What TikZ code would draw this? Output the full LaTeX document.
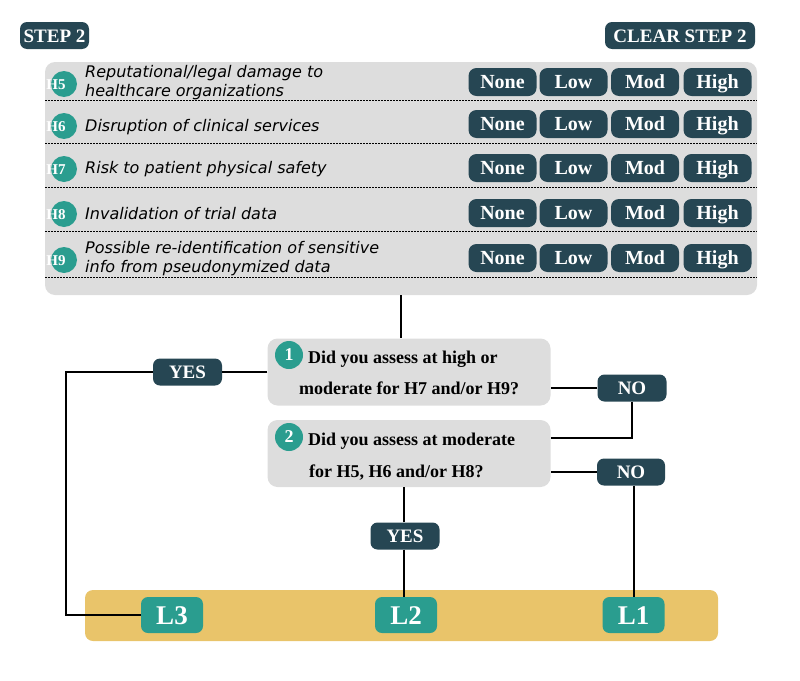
\documentclass[tikz,border=0pt]{standalone}
\usepackage{fontspec}
\setmainfont{Liberation Serif}
\newfontfamily\dejavu{DejaVu Sans}
\definecolor{dk}{HTML}{264653}
\definecolor{tl}{HTML}{2A9D8F}
\definecolor{yl}{HTML}{E9C46A}
\definecolor{gr}{HTML}{DDDDDD}
\tikzset{
  pill/.style={fill=dk, rounded corners=7pt, text=white, inner sep=0pt, text height=13pt, text depth=0pt, font=\bfseries\fontsize{19}{19}\selectfont},
  btn/.style={fill=dk, rounded corners=8pt, text=white, inner sep=0pt, minimum width=68pt, minimum height=28pt, text height=14pt, text depth=1pt, font=\bfseries\fontsize{20}{20}\selectfont},
  hcirc/.style={circle, fill=tl, minimum size=26pt, inner sep=0pt},
  htxt/.style={text=white, inner sep=0pt, font=\bfseries\fontsize{15}{15}\selectfont},
  rowtxt/.style={anchor=west, align=left, inner sep=0pt, text=black, font=\dejavu\itshape\fontsize{16}{19}\selectfont},
  sep/.style={line width=1pt, dash pattern=on 2pt off 1pt},
  qbox/.style={fill=gr, rounded corners=10pt, minimum width=283pt, minimum height=67pt, inner sep=0pt},
  qnum/.style={circle, fill=tl, text=white, minimum size=28pt, inner sep=0pt, font=\bfseries\fontsize{18}{18}\selectfont},
  qtxt/.style={anchor=base west, inner sep=0pt, font=\bfseries\fontsize{18}{18}\selectfont},
  lbox/.style={fill=tl, rounded corners=7pt, text=white, minimum width=62pt, minimum height=36pt, inner sep=0pt, text height=18pt, text depth=0pt, font=\bfseries\fontsize{27}{27}\selectfont},
  conn/.style={line width=2.6pt, black}
}
\begin{document}
\begin{tikzpicture}[x=1pt,y=-1pt]
\useasboundingbox (0,0) rectangle (800,680);
% header
\node[pill, minimum width=69pt, minimum height=27pt] (step) at (54.5,35.5) {STEP 2};
\node[pill, minimum width=150pt, minimum height=27pt] (clear) at (680,35.5) {CLEAR STEP 2};
% panel
\node[fill=gr, rounded corners=10pt, minimum width=712pt, minimum height=233pt, inner sep=0pt] (panel) at (401,178.5) {};
% separators
\foreach \y/\n in {100/s5,143/s6,187/s7,231/s8,277/s9}{
  \coordinate (\n a) at (45,\y); \coordinate (\n b) at (757,\y);
  \draw[sep] (\n a) -- (\n b);
}
% rows
\foreach \n/\cy/\by/\ty/\txt in {
  5/84/82/82.5/{Reputational/legal damage to\\healthcare organizations},
  6/126/124/127/{Disruption of clinical services},
  7/169/168/169/{Risk to patient physical safety},
  8/214/213/214/{Invalidation of trial data},
  9/260/258/259/{Possible re-identification of sensitive\\info from pseudonymized data}}{
  \node[hcirc] (hc\n) at (64,\cy) {};
  \node[htxt] (ht\n) at (56,\cy+1) {H\n};
  \node[rowtxt] (rt\n) at (85,\ty) {\txt};
  \node[btn] (none\n) at (502.5,\by) {None};
  \node[btn] (low\n) at (573.5,\by) {Low};
  \node[btn] (mod\n) at (645,\by) {Mod};
  \node[btn] (high\n) at (717.5,\by) {High};
}
% band
\node[fill=yl, rounded corners=8pt, minimum width=633pt, minimum height=51pt, inner sep=0pt] (band) at (401.5,615.5) {};
% questions
\node[qbox] (q1) at (409,372) {};
\node[qbox] (q2) at (409,453.5) {};
\node[qnum] (n1) at (289,355) {1};
\node[qnum] (n2) at (289,437) {2};
\node[qtxt] (q1a) at (308,363) {Did you assess at high or};
\node[qtxt] (q1b) at (299,394) {moderate for H7 and/or H9?};
\node[qtxt] (q2a) at (308,445) {Did you assess at moderate};
\node[qtxt] (q2b) at (309,477) {for H5, H6 and/or H8?};
% labels
\node[pill, minimum width=69pt, minimum height=27pt] (yes1) at (187.5,372) {YES};
\node[pill, minimum width=69pt, minimum height=27pt] (no1) at (632,388) {NO};
\node[pill, minimum width=68pt, minimum height=27pt] (no2) at (631,472) {NO};
\node[pill, minimum width=69pt, minimum height=27pt] (yes2) at (405,536) {YES};
% levels
\node[lbox] (l3) at (172,615) {L3};
\node[lbox] (l2) at (406,615) {L2};
\node[lbox] (l1) at (633.5,615) {L1};
% connectors
\coordinate (lc) at (66,372);
\draw[conn] (panel.south) -- (panel.south |- q1.north);
\draw[conn] (q1.west) -- (yes1.east);
\draw[conn] (yes1.west) -- (lc) |- (l3.west);
\draw[conn] (no1.west) -- (no1.west -| q1.east);
\draw[conn] (no1.south) |- ([yshift=15.5pt]q2.east);
\draw[conn] (no2.west) -- (no2.west -| q2.east);
\draw[conn] ([xshift=3pt]no2.south) -- ([xshift=3pt]no2.south |- l1.north);
\draw[conn] (yes2.north -| 404,0) -- (q2.south -| 404,0);
\draw[conn] (yes2.south -| 404,0) -- (l2.north -| 404,0);
\end{tikzpicture}
\end{document}
